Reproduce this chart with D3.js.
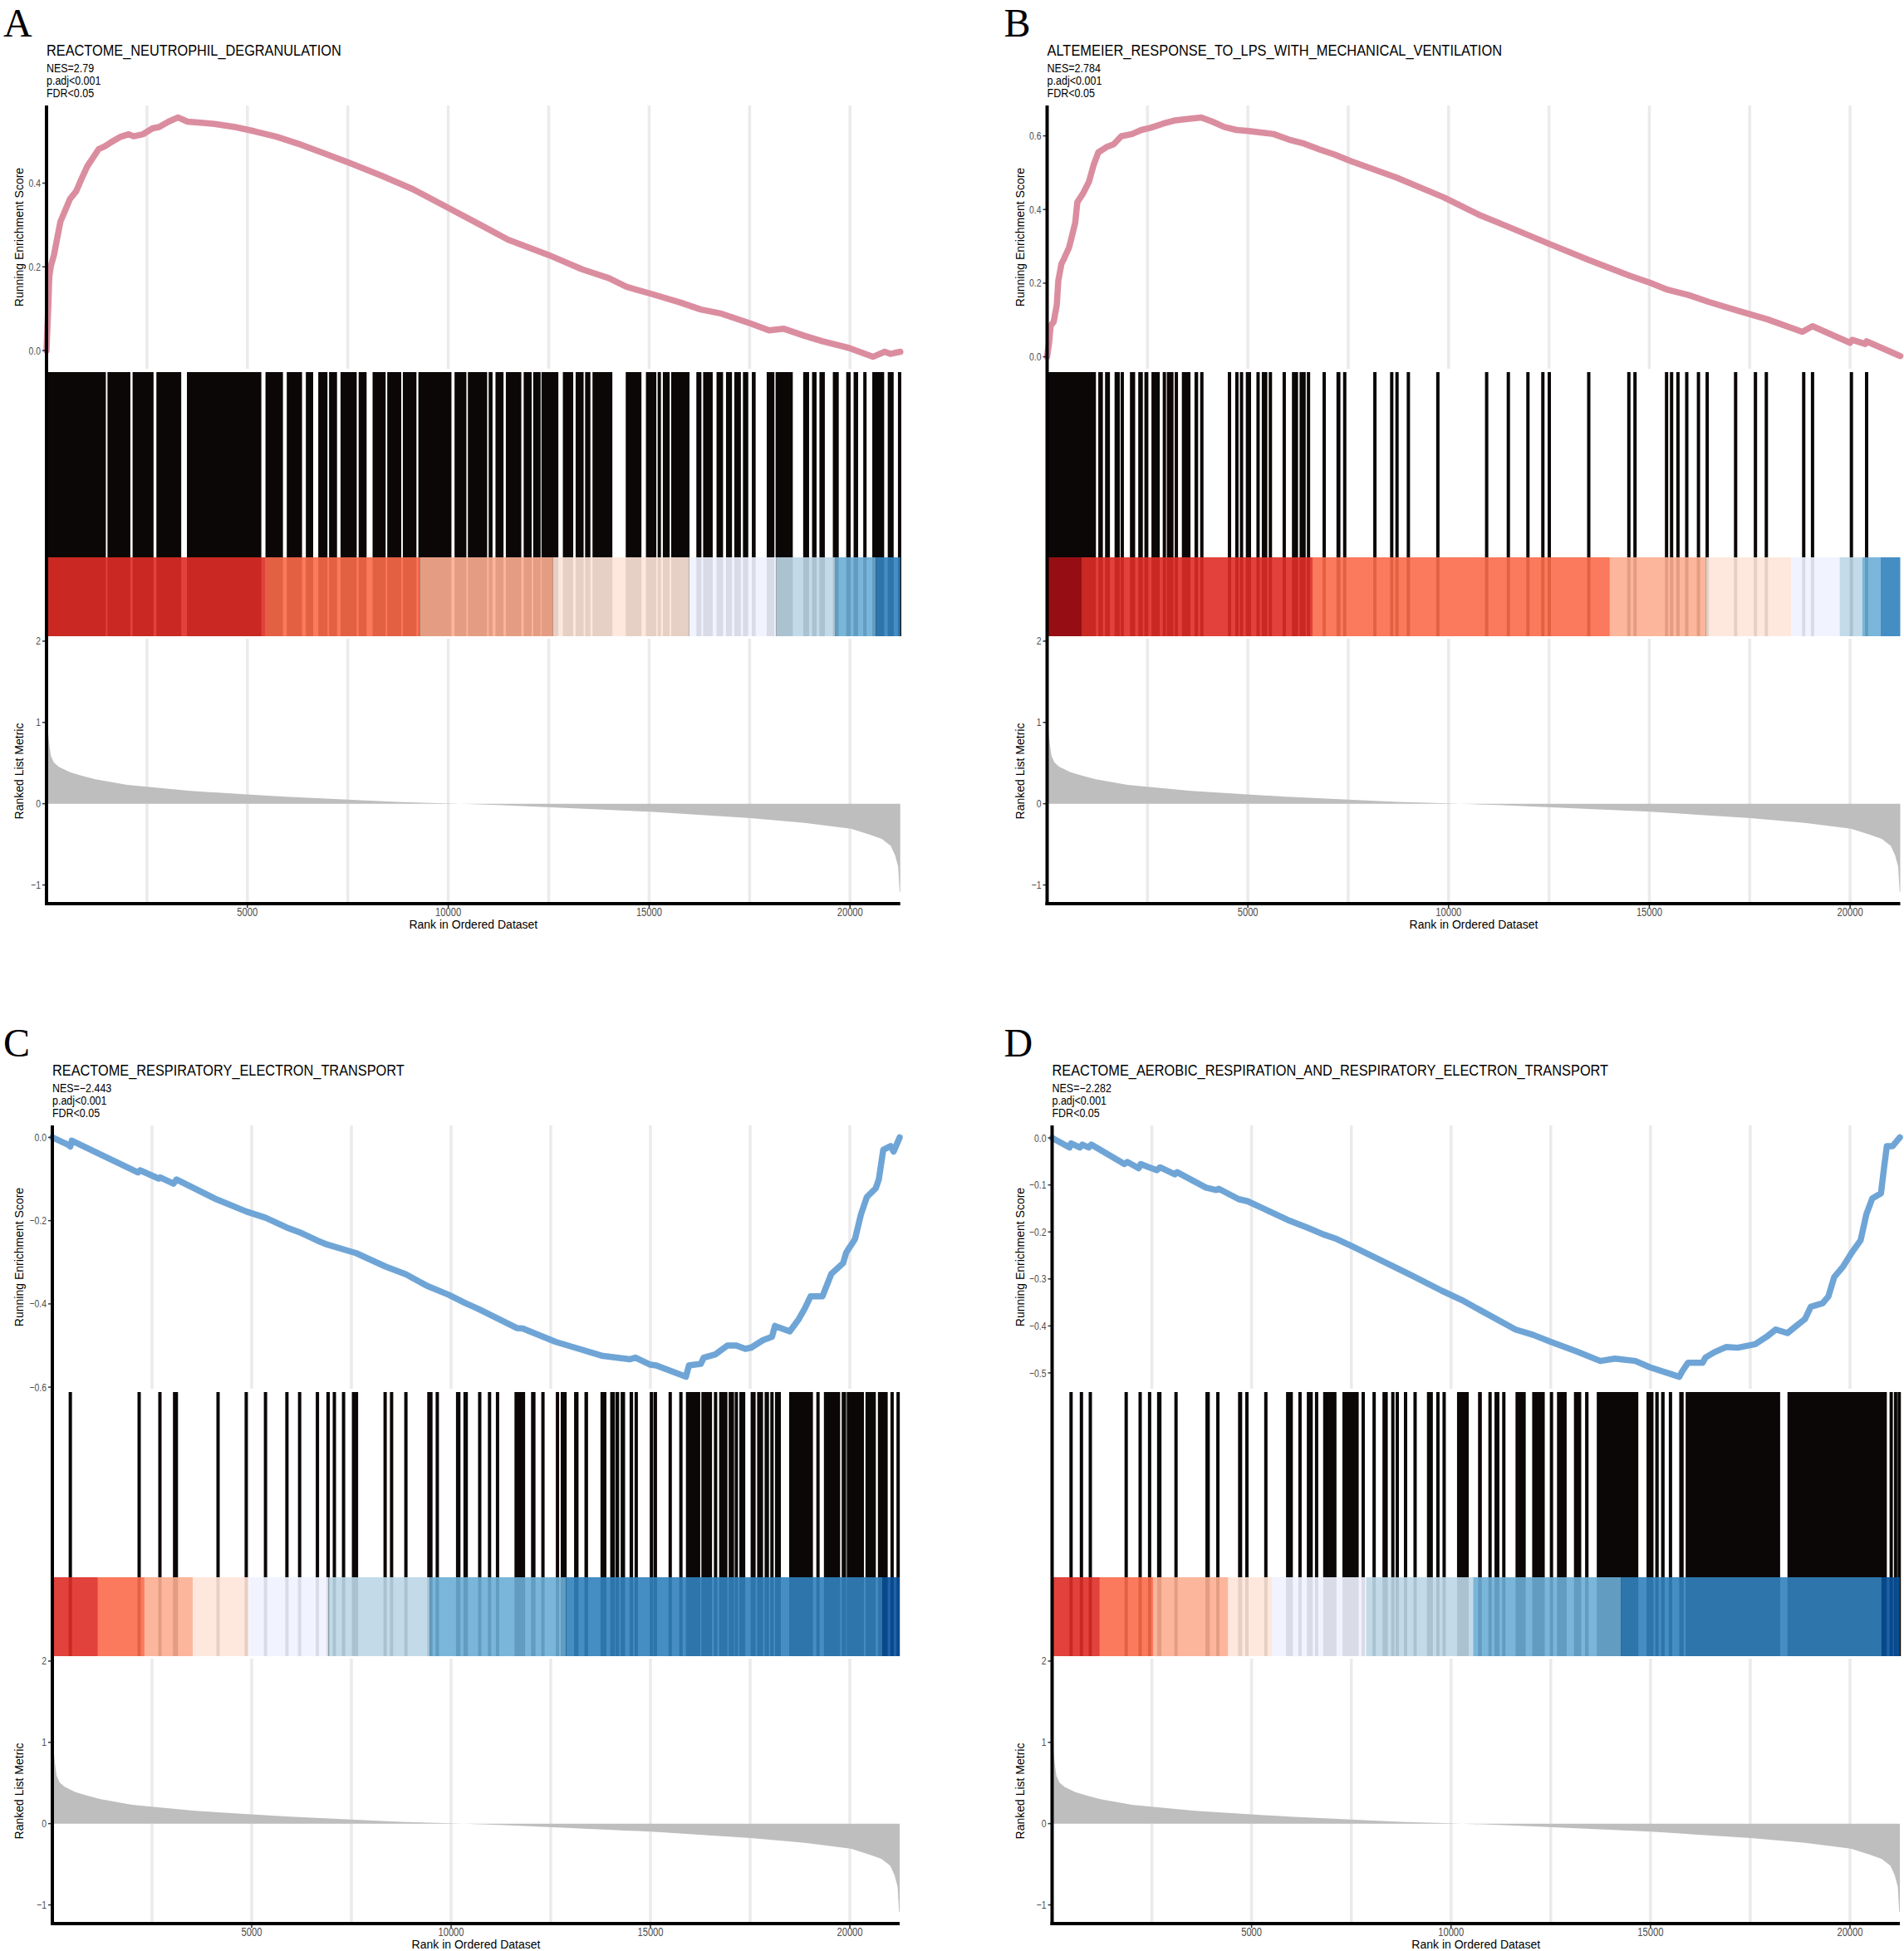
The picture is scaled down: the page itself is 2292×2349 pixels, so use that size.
<!DOCTYPE html>
<html>
<head>
<meta charset="utf-8">
<script src="https://cdn.jsdelivr.net/npm/d3@7"></script>
<style>
  body { margin: 0; background: #fff; }
  svg { display: block; }
</style>
</head>
<body>
<script>
// ---- data ----
const N = 21250; // genes in the ranked list

// brewer Blues (reversed) + Reds, as used for the rank colour band
const palette = ["#08519C", "#3182BD", "#6BAED6", "#BDD7E7", "#EFF3FF",
                 "#FEE5D9", "#FCAE91", "#FB6A4A", "#DE2D26", "#A50F15"];

// ranked list metric, shared by all four panels: [rank, metric]
const metric = [[0, 1.02], [29, 0.92], [69, 0.73], [108, 0.59], [187, 0.505], [306, 0.454],
  [583, 0.386], [899, 0.341], [1216, 0.30], [2008, 0.232], [2498, 0.209], [3590, 0.157],
  [4998, 0.113], [5964, 0.086], [7500, 0.051], [8735, 0.021], [10000, 0.004], [11249, -0.017],
  [12446, -0.041], [15015, -0.099], [17519, -0.177], [18871, -0.235], [20023, -0.307],
  [20495, -0.382], [20790, -0.433], [21012, -0.518], [21123, -0.638], [21198, -0.774],
  [21235, -1.081], [21250, -1.09]];

const titles = ["REACTOME_NEUTROPHIL_DEGRANULATION",
  "ALTEMEIER_RESPONSE_TO_LPS_WITH_MECHANICAL_VENTILATION",
  "REACTOME_RESPIRATORY_ELECTRON_TRANSPORT",
  "REACTOME_AEROBIC_RESPIRATION_AND_RESPIRATORY_ELECTRON_TRANSPORT"];
const nesValues = ["2.79", "2.784", "\u22122.443", "\u22122.282"];
const panelLetters = ["A", "B", "C", "D"];

// running enrichment score: [rank, ES]
const esA = [[0, 0], [45, 0.109], [69, 0.176], [108, 0.202], [187, 0.229], [267, 0.269],
  [346, 0.308], [465, 0.335], [583, 0.362], [741, 0.381], [860, 0.408], [1018, 0.441],
  [1137, 0.458], [1295, 0.481], [1453, 0.488], [1611, 0.498], [1849, 0.511], [2047, 0.517],
  [2166, 0.512], [2403, 0.517], [2641, 0.531], [2800, 0.534], [3036, 0.547], [3273, 0.557],
  [3511, 0.547], [3906, 0.544], [4223, 0.541], [4698, 0.534], [5174, 0.524], [5726, 0.511],
  [6361, 0.491], [6834, 0.474], [7548, 0.448], [8337, 0.418], [9130, 0.385], [9921, 0.345],
  [10747, 0.303], [11485, 0.265], [12504, 0.228], [13331, 0.194], [13997, 0.173],
  [14440, 0.152], [15031, 0.136], [15769, 0.115], [16286, 0.098], [16803, 0.088],
  [17541, 0.064], [17984, 0.048], [18354, 0.052], [18871, 0.035], [19314, 0.022],
  [19977, 0.006], [20569, -0.015], [20864, -0.003], [21000, -0.008], [21250, -0.003]];

const esB = [[0, 0], [50, 0.039], [87, 0.084], [163, 0.095], [240, 0.14], [279, 0.207],
  [356, 0.252], [432, 0.269], [547, 0.297], [623, 0.33], [700, 0.364], [753, 0.42],
  [892, 0.443], [1045, 0.476], [1159, 0.521], [1274, 0.555], [1504, 0.571], [1657, 0.577],
  [1848, 0.599], [2116, 0.605], [2346, 0.616], [2576, 0.622], [2882, 0.633], [3189, 0.642],
  [3495, 0.646], [3839, 0.65], [4107, 0.639], [4414, 0.624], [4720, 0.616], [5026, 0.613],
  [5409, 0.608], [5639, 0.605], [6021, 0.59], [6404, 0.579], [6787, 0.563], [7170, 0.549],
  [7551, 0.532], [8700, 0.487], [9880, 0.433], [10751, 0.386], [11378, 0.358],
  [12545, 0.305], [13491, 0.263], [14511, 0.22], [15022, 0.201], [15459, 0.182],
  [15970, 0.168], [16479, 0.149], [17207, 0.125], [17935, 0.102], [18810, 0.068],
  [19065, 0.083], [20000, 0.038], [20048, 0.046], [20380, 0.035], [20412, 0.042],
  [21250, 0.002]];

const esC = [[0, 0], [399, -0.018], [451, -0.022], [488, -0.008], [2148, -0.084],
  [2199, -0.079], [2668, -0.099], [2706, -0.096], [3040, -0.111], [3115, -0.101],
  [4119, -0.149], [4863, -0.178], [5346, -0.193], [5867, -0.216], [6202, -0.228],
  [6648, -0.248], [6908, -0.258], [7617, -0.278], [8346, -0.31], [8867, -0.329],
  [9402, -0.357], [9938, -0.378], [10354, -0.398], [10681, -0.412], [11648, -0.458],
  [11798, -0.459], [12617, -0.491], [13138, -0.506], [13806, -0.525], [14477, -0.533],
  [14625, -0.529], [14997, -0.546], [15146, -0.548], [15890, -0.575], [15965, -0.548],
  [16262, -0.544], [16336, -0.529], [16633, -0.521], [16931, -0.5], [17154, -0.5],
  [17378, -0.508], [17527, -0.505], [17824, -0.487], [18048, -0.479], [18122, -0.453],
  [18494, -0.466], [18717, -0.437], [18866, -0.412], [19015, -0.382], [19313, -0.382],
  [19535, -0.328], [19833, -0.302], [19908, -0.277], [20131, -0.244], [20279, -0.185],
  [20429, -0.143], [20652, -0.122], [20727, -0.101], [20838, -0.03], [21023, -0.021],
  [21098, -0.034], [21250, 0.0]];

const esD = [[0, 0], [437, -0.0203], [475, -0.0115], [697, -0.0203], [758, -0.0141],
  [920, -0.0203], [980, -0.0141], [1813, -0.0555], [1886, -0.0511], [2169, -0.0643],
  [2221, -0.0555], [2406, -0.0617], [2631, -0.0687], [2704, -0.0625], [3077, -0.0774],
  [3135, -0.073], [3857, -0.1057], [4117, -0.1108], [4176, -0.1081], [4675, -0.1302],
  [4898, -0.1346], [5344, -0.1521], [5901, -0.1742], [6422, -0.1917], [6794, -0.205],
  [7090, -0.2136], [7537, -0.2313], [8281, -0.262], [9024, -0.2928], [9767, -0.325],
  [10273, -0.345], [10737, -0.3668], [11616, -0.4076], [12055, -0.4189], [12496, -0.4338],
  [13156, -0.4546], [13741, -0.4746], [14108, -0.4694], [14622, -0.4746], [14988, -0.488],
  [15720, -0.5081], [15793, -0.4969], [15941, -0.4782], [16307, -0.4782], [16380, -0.4671],
  [16599, -0.456], [16892, -0.4449], [17186, -0.4463], [17625, -0.4389], [17918, -0.4226],
  [18139, -0.4076], [18433, -0.4152], [18651, -0.4002], [18872, -0.3853], [19018, -0.3594],
  [19311, -0.3519], [19459, -0.3371], [19605, -0.2961], [19825, -0.2739], [20044, -0.2442],
  [20265, -0.218], [20411, -0.1624], [20558, -0.1288], [20777, -0.1177], [20851, -0.0655],
  [20924, -0.0173], [21070, -0.0173], [21250, 0.0012]];

// gene-set hits, as [first rank, last rank] runs of black
const hitsA = [[0, 1477], [1517, 2087], [2142, 2664], [2735, 3353], [3495, 5347], [5450, 5885],
  [5980, 6360], [6455, 6637], [6764, 6993], [7033, 7231], [7318, 7721], [7769, 7967],
  [8116, 8441], [8481, 8829], [8869, 9208], [9256, 10079], [10156, 10451], [10488, 10968],
  [11005, 11102], [11175, 11375], [11433, 11818], [11877, 12076], [12113, 12298],
  [12320, 12740], [12852, 13110], [13170, 13369], [13406, 13538], [13590, 14084],
  [14417, 14808], [14920, 15178], [15215, 15290], [15341, 15511], [15548, 16005],
  [16175, 16301], [16344, 16582], [16677, 16840], [16913, 17062], [17120, 17283],
  [17335, 17467], [17556, 17651], [17926, 18117], [18147, 18575], [18834, 18981],
  [19055, 19167], [19239, 19373], [19572, 19719], [19905, 20015], [20089, 20201],
  [20333, 20408], [20554, 20850], [20939, 21086], [21218, 21250]];

const hitsB = [[0, 1216], [1274, 1389], [1443, 1565], [1680, 1810], [1833, 1910], [2063, 2193],
  [2270, 2384], [2423, 2522], [2599, 2806], [2882, 2959], [2982, 3149], [3189, 3249],
  [3356, 3571], [3671, 3762], [3815, 3892], [4504, 4581], [4689, 4765], [4811, 4873],
  [4949, 5080], [5216, 5293], [5347, 5485], [5523, 5599], [5868, 5944], [6098, 6251],
  [6288, 6441], [6480, 6541], [6863, 6940], [7207, 7306], [7375, 7451], [8126, 8202],
  [8545, 8622], [8684, 8746], [8967, 9029], [9694, 9771], [10948, 10948], [11488, 11488],
  [11976, 11976], [12348, 12348], [12508, 12508], [13491, 13491], [14490, 14490],
  [14643, 14643], [15429, 15429], [15554, 15554], [15713, 15713], [15932, 15932],
  [16224, 16224], [16441, 16441], [17149, 17149], [17643, 17643], [17914, 17914],
  [18845, 18845], [19065, 19065], [20033, 20033], [20412, 20412]];

const hitsC = [[451, 451], [2177, 2177], [2698, 2698], [3025, 3152], [4156, 4156], [4863, 4863],
  [5346, 5346], [5883, 5883], [6202, 6202], [6648, 6648], [6873, 6960], [7073, 7073],
  [7304, 7304], [7512, 7669], [8346, 8346], [8508, 8508], [8867, 8867], [9402, 9535],
  [9654, 9654], [10123, 10235], [10310, 10421], [10681, 10756], [10927, 11002],
  [11128, 11202], [11590, 11857], [12006, 12117], [12266, 12342], [12631, 12706],
  [12750, 12899], [13085, 13196], [13345, 13435], [13747, 13896], [13991, 14104],
  [14119, 14216], [14253, 14364], [14477, 14565], [14610, 14677], [14982, 15071],
  [15086, 15161], [15458, 15533], [15727, 15801], [15890, 16248], [16277, 16545],
  [16596, 16671], [16723, 16931], [16961, 17096], [17140, 17169], [17229, 17378],
  [17512, 17638], [17675, 17824], [17863, 17973], [18010, 18085], [18123, 18271],
  [18479, 19075], [19165, 19238], [19350, 19758], [19796, 19908], [19923, 20354],
  [20392, 20652], [20704, 20950], [21023, 21098], [21173, 21250]];

const hitsD = [[475, 475], [735, 735], [958, 958], [1857, 1857], [2207, 2207], [2444, 2444],
  [2631, 2742], [3106, 3106], [3843, 3953], [4155, 4155], [4661, 4765], [4883, 4883],
  [5358, 5358], [5864, 6035], [6214, 6214], [6385, 6534], [6630, 6630], [6794, 7128],
  [7277, 7685], [7798, 7798], [8072, 8072], [8281, 8414], [8541, 8541], [8652, 8652],
  [8860, 8860], [9099, 9099], [9396, 9544], [9671, 9671], [9827, 9827], [10150, 10443],
  [10677, 10772], [10941, 11014], [11089, 11212], [11286, 11360], [11616, 11872],
  [12034, 12349], [12481, 12554], [12656, 12898], [13081, 13264], [13360, 13447],
  [13653, 14694], [14900, 15075], [15119, 15206], [15266, 15354], [15464, 15537],
  [15720, 15831], [15881, 18249], [18433, 20924], [20997, 21070], [21107, 21180],
  [21218, 21250]];

// rank colour band: segment breaks (ranks) and palette level of each segment
const bandBreaksA = [0, 5450, 9290, 12608, 15990, 18168, 19624, 20643, 21250];
const bandLevelsA = [8, 7, 6, 5, 4, 3, 2, 1];
const bandBreaksB = [0, 852, 6611, 14016, 16406, 18533, 19742, 20304, 20755, 21250];
const bandLevelsB = [9, 8, 7, 6, 5, 4, 3, 2, 1];
const bandBreaksC = [0, 1143, 2311, 3523, 4923, 6925, 9461, 12877, 20815, 21250];
const bandLevelsC = [8, 7, 6, 5, 4, 3, 2, 1, 0];
const bandBreaksD = [0, 1195, 2542, 4415, 5514, 7871, 10554, 14255, 20799, 21250];
const bandLevelsD = [8, 7, 6, 5, 4, 3, 2, 1, 0];

const esTickStep = [0.2, 0.2, 0.2, 0.1];
const curveColors = ["#DB8DA0", "#DB8DA0", "#6FA5D6", "#6FA5D6"];

// ---- layout ----
const W = 2292, H = 2349;
const layout = [
  { ox: 0,      oy: 0,    left: 56,     right: 1083.7, titleW: 355 },
  { ox: 1204.5, oy: 0,    left: 1260.5, right: 2287.5, titleW: 548 },
  { ox: 0,      oy: 1228, left: 63,     right: 1083,   titleW: 424 },
  { ox: 1204.5, oy: 1228, left: 1266.5, right: 2287,   titleW: 670 }
];
const V = { letter: 44, title: 66.7, stat: [87.3, 102, 116.7], esTop: 127, esBottom: 444,
  hitTop: 448, bandTop: 671, bandBottom: 766, metTop: 769, metBottom: 1088,
  xTick: 1103, xTitle: 1118 };
const metricDomain = [-1.23, 2.03];

const panels = titles.map((t, i) => ({
  letter: panelLetters[i], title: t,
  stats: ["NES=" + nesValues[i], "p.adj<0.001", "FDR<0.05"],
  es: [esA, esB, esC, esD][i],
  hits: [hitsA, hitsB, hitsC, hitsD][i],
  breaks: [bandBreaksA, bandBreaksB, bandBreaksC, bandBreaksD][i],
  levels: [bandLevelsA, bandLevelsB, bandLevelsC, bandLevelsD][i],
  tickStep: esTickStep[i], color: curveColors[i]
}));

const svg = d3.select("body").append("svg")
    .attr("width", W).attr("height", H)
    .style("font-family", "'Liberation Sans', Arial, Helvetica, sans-serif");

// text squeezed horizontally about its anchor point
function sText(g, x, y, str, size, sx, anchor, fill) {
  return g.append("text")
      .attr("transform", `translate(${x},${y}) scale(${sx},1)`)
      .attr("text-anchor", anchor || "start")
      .attr("font-size", size)
      .attr("fill", fill || "#000")
      .text(str);
}

const fmtES = d3.format(".1f");
const gridRanks = d3.range(2500, N, 2500);

panels.forEach((p, i) => {
  const L = layout[i];
  const g = svg.append("g").attr("transform", `translate(0,${L.oy})`);
  const x = d3.scaleLinear().domain([0, N]).range([L.left, L.right]);

  // headings
  g.append("text")
      .attr("x", L.ox + 4).attr("y", V.letter)
      .attr("font-family", "'Liberation Serif', 'Times New Roman', serif")
      .attr("font-size", 48)
      .text(p.letter);

  const title = g.append("text")
      .attr("font-size", 19)
      .text(p.title);
  const sx = L.titleW / title.node().getComputedTextLength();
  title.attr("transform", `translate(${L.left},${V.title}) scale(${sx},1)`);
  p.stats.forEach((s, k) => sText(g, L.left, V.stat[k], s, 14.5, sx));

  // --- running enrichment score panel ---
  const [lo, hi] = d3.extent(p.es, d => d[1]);
  const pad = (hi - lo) * 0.05;
  const y = d3.scaleLinear().domain([lo - pad, hi + pad]).range([V.esBottom, V.esTop]);

  g.append("g").selectAll("line").data(gridRanks).join("line")
      .attr("x1", d => x(d)).attr("x2", d => x(d))
      .attr("y1", V.esTop).attr("y2", V.esBottom)
      .attr("stroke", "#EBEBEB").attr("stroke-width", 3.6);

  g.append("path")
      .datum(p.es)
      .attr("fill", "none")
      .attr("stroke", p.color)
      .attr("stroke-width", 7.5)
      .attr("stroke-linejoin", "round")
      .attr("stroke-linecap", "round")
      .attr("d", d3.line().x(d => x(d[0])).y(d => y(d[1])));

  const esTicks = d3.range(Math.ceil((lo - pad) / p.tickStep - 1e-9),
                           Math.floor((hi + pad) / p.tickStep + 1e-9) + 1)
      .map(k => +(k * p.tickStep).toFixed(2));
  esTicks.forEach(t => {
    g.append("line")
        .attr("x1", L.left - 5).attr("x2", L.left)
        .attr("y1", y(t)).attr("y2", y(t))
        .attr("stroke", "#333").attr("stroke-width", 1.5);
    sText(g, L.left - 7, y(t) + 4.5, fmtES(t), 13, 0.8, "end", "#4D4D4D");
  });

  g.append("text")
      .attr("transform", `translate(${L.ox + 28},${(V.esTop + V.esBottom) / 2}) rotate(-90)`)
      .attr("text-anchor", "middle")
      .attr("font-size", 14)
      .text("Running Enrichment Score");

  // --- hits + rank colour band ---
  g.append("g").selectAll("rect").data(p.hits).join("rect")
      .each(function(d) {
        let x0 = x(d[0]), x1 = x(d[1]);
        if (x1 - x0 < 4) { const m = (x0 + x1) / 2; x0 = m - 2; x1 = m + 2; }
        d3.select(this).attr("x", x0).attr("width", x1 - x0);
      })
      .attr("y", V.hitTop).attr("height", V.bandBottom - V.hitTop)
      .attr("fill", "#0A0706");

  g.append("g").selectAll("rect").data(p.levels).join("rect")
      .attr("x", (d, k) => x(p.breaks[k]))
      .attr("width", (d, k) => x(p.breaks[k + 1]) - x(p.breaks[k]))
      .attr("y", V.bandTop).attr("height", V.bandBottom - V.bandTop)
      .attr("fill", d => palette[d])
      .attr("fill-opacity", 0.9);

  // --- ranked list metric panel ---
  const ym = d3.scaleLinear().domain(metricDomain).range([V.metBottom, V.metTop]);

  g.append("g").selectAll("line").data(gridRanks).join("line")
      .attr("x1", d => x(d)).attr("x2", d => x(d))
      .attr("y1", V.metTop).attr("y2", V.metBottom)
      .attr("stroke", "#EBEBEB").attr("stroke-width", 3.6);

  g.append("path")
      .datum(metric)
      .attr("fill", "#BEBEBE")
      .attr("d", d3.area().x(d => x(d[0])).y0(ym(0)).y1(d => ym(d[1])));

  [-1, 0, 1, 2].forEach(t => {
    g.append("line")
        .attr("x1", L.left - 5).attr("x2", L.left)
        .attr("y1", ym(t)).attr("y2", ym(t))
        .attr("stroke", "#333").attr("stroke-width", 1.5);
    sText(g, L.left - 7, ym(t) + 4.5, d3.format("d")(t), 13, 0.8, "end", "#4D4D4D");
  });

  [5000, 10000, 15000, 20000].forEach(t => {
    g.append("line")
        .attr("x1", x(t)).attr("x2", x(t))
        .attr("y1", V.metBottom).attr("y2", V.metBottom + 5)
        .attr("stroke", "#333").attr("stroke-width", 1.5);
    sText(g, x(t), V.xTick, String(t), 14, 0.8, "middle", "#4D4D4D");
  });

  g.append("text")
      .attr("x", (L.left + L.right) / 2).attr("y", V.xTitle)
      .attr("text-anchor", "middle")
      .attr("font-size", 14)
      .text("Rank in Ordered Dataset");

  g.append("text")
      .attr("transform", `translate(${L.ox + 28},${(V.metTop + V.metBottom) / 2}) rotate(-90)`)
      .attr("text-anchor", "middle")
      .attr("font-size", 14)
      .text("Ranked List Metric");

  // axis lines
  g.append("line")
      .attr("x1", L.left).attr("x2", L.left)
      .attr("y1", V.esTop).attr("y2", V.metBottom + 2)
      .attr("stroke", "#000").attr("stroke-width", 4);
  g.append("line")
      .attr("x1", L.left - 2).attr("x2", L.right)
      .attr("y1", V.metBottom).attr("y2", V.metBottom)
      .attr("stroke", "#000").attr("stroke-width", 4);
});
</script>
</body>
</html>
